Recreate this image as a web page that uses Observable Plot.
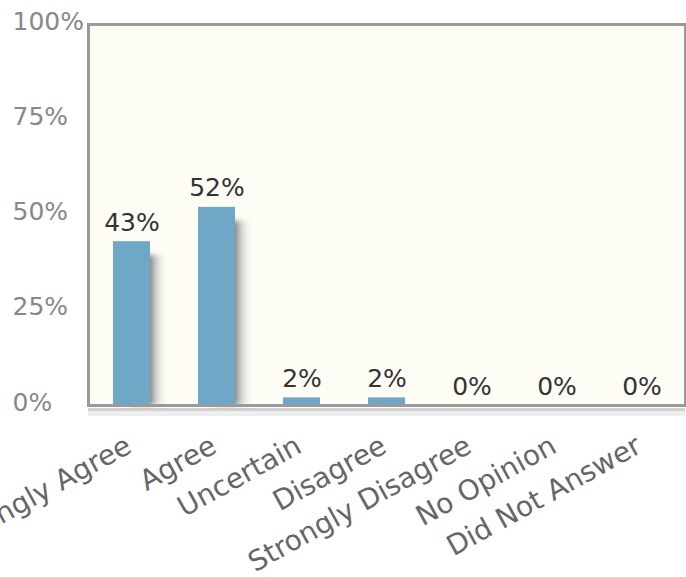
<!DOCTYPE html>
<html><head><meta charset="utf-8">
<script src="https://cdn.jsdelivr.net/npm/d3@7"></script>
<script src="https://cdn.jsdelivr.net/npm/@observablehq/plot@0.6"></script>
<style>body{margin:0;background:#fff;}</style>
</head><body><div id="chart"></div>
<script>
const categories = ["Strongly Agree","Agree","Uncertain","Disagree","Strongly Disagree","No Opinion","Did Not Answer"];
const percents = [43, 52, 2, 2, 0, 0, 0];
const yTicks = [0, 25, 50, 75, 100];
const data = categories.map((c, i) => ({category: c, value: percents[i]}));
const font = "'DejaVu Sans', Verdana, sans-serif";

const chart = Plot.plot({
  width: 686, height: 577,
  marginLeft: 88, marginRight: 1, marginTop: 24, marginBottom: 172,
  style: {fontFamily: font, background: "#fff", overflow: "visible"},
  x: {domain: categories, paddingInner: 0.565, paddingOuter: 0.2825},
  y: {domain: [0, 100]},
  marks: [
    Plot.frame({fill: "#fdfcf5"}),
    Plot.barY(data, {x: "category", y: "value", dx: 18, insetTop: 14, fill: "url(#barShadow)"}),
    Plot.barY(data, {x: "category", y: "value", fill: "#6fa7c6"}),
    Plot.text(data, {x: "category", y: "value", text: d => d.value + "%", lineAnchor: "bottom", dy: -11, fontSize: 25, fill: "#333"}),
    Plot.ruleY([0], {dy: 4, stroke: "#999", strokeWidth: 3, strokeOpacity: 0.45}),
    Plot.ruleY([0], {dy: 8, stroke: "#bbb", strokeWidth: 5, strokeOpacity: 0.25}),
    Plot.frame({stroke: "#9a9a9a", strokeWidth: 3}),
    Plot.axisY(yTicks, {tickSize: 0, tickPadding: 0, textAnchor: "start", dx: -76, dy: -3, tickFormat: d => d + "%", fontSize: 25, color: "#888", label: null}),
    Plot.axisX({tickSize: 0, tickPadding: 38, dx: -3, tickRotate: -29, fontSize: 28, color: "#666", label: null})
  ]
});
const defs = d3.select(chart).insert("defs", ":first-child");
const g = defs.append("linearGradient").attr("id", "barShadow").attr("x1", 0).attr("x2", 1).attr("y1", 0).attr("y2", 0);
g.append("stop").attr("offset", 0.5).attr("stop-color", "#666").attr("stop-opacity", 0.85);
g.append("stop").attr("offset", 0.7).attr("stop-color", "#aaa").attr("stop-opacity", 0.45);
g.append("stop").attr("offset", 1).attr("stop-color", "#fdfcf5").attr("stop-opacity", 0);
const f = defs.append("filter").attr("id", "soft").attr("x", "-20%").attr("y", "-20%").attr("width", "140%").attr("height", "140%");
f.append("feGaussianBlur").attr("stdDeviation", 2.5);
d3.select(chart).selectAll('g[fill="url(#barShadow)"]').attr("filter", "url(#soft)");
document.getElementById("chart").appendChild(chart);
</script>
</body></html>
